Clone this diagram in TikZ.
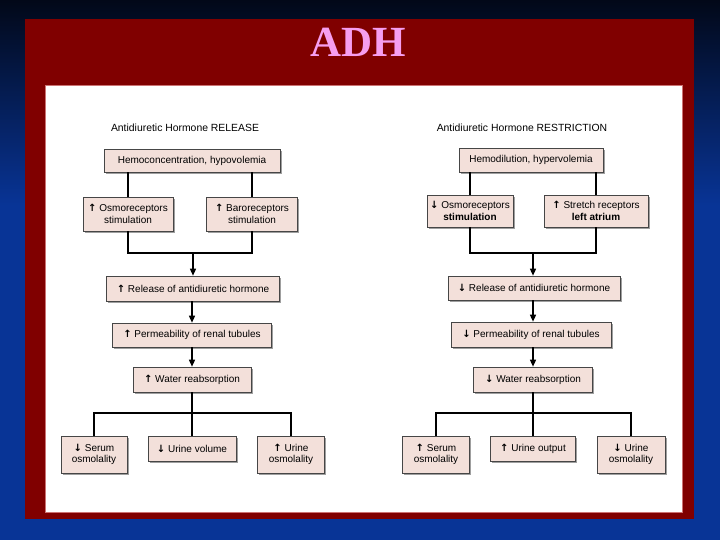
\documentclass[tikz,border=0pt]{standalone}
\usepackage{fontspec}
\setmainfont{Liberation Sans}
\newfontfamily\titlefont{Liberation Serif}
\newfontfamily\arrowfont{DejaVu Sans}
\usetikzlibrary{shadows,arrows.meta}
\definecolor{bgblue}{RGB}{8,52,150}
\definecolor{bgdark}{RGB}{2,8,24}
\definecolor{framered}{RGB}{128,0,0}
\definecolor{boxfill}{RGB}{243,224,218}
\definecolor{titlepink}{RGB}{246,158,240}
\pgfdeclareverticalshading{bgshade}{100bp}{color(0bp)=(bgblue); color(25bp)=(bgblue); color(56bp)=(bgblue); color(75bp)=(bgdark); color(100bp)=(bgdark)}
\newcommand\uparr{{\arrowfont\bfseries\char"2191}}
\newcommand\dnarr{{\arrowfont\bfseries\char"2193}}
\tikzset{
  box/.style={rectangle, fill=boxfill, draw=gray!55!black, line width=0.6pt,
    drop shadow={shadow xshift=1.8pt, shadow yshift=-1.8pt, fill=gray!75, opacity=1},
    inner sep=1pt, align=center, font=\fontsize{10}{11.5}\selectfont},
  lbl/.style={font=\fontsize{10.4}{12}\selectfont, inner sep=0pt},
  conn/.style={line width=1.4pt, black},
  arr/.style={conn, -{Triangle[length=7pt,width=6pt]}}
}
\begin{document}
\begin{tikzpicture}[x=1pt,y=-1pt]
\useasboundingbox (0,0) rectangle (720,540);
\shade[shading=bgshade] (0,0) rectangle (720,540);
\fill[framered] (25,19) rectangle (694,519);
\fill[white, draw=pink!60!framered, line width=0.6pt] (45,85) rectangle (682,512);
\node[text=titlepink, font=\titlefont\bfseries\fontsize{43}{43}\selectfont, inner sep=0pt] (title) at (358,42) {ADH};

% ---------- left: RELEASE ----------
\node[lbl] (t1) at (185,128) {Antidiuretic Hormone RELEASE};
\node[box, minimum width=176pt, minimum height=23pt] (hemo) at (192,160.5) {Hemoconcentration, hypovolemia};
\node[box, minimum width=90pt, minimum height=34pt] (osmo) at (128,214) {\uparr\ Osmoreceptors\\stimulation};
\node[box, minimum width=91pt, minimum height=34pt] (baro) at (252,214) {\uparr\ Baroreceptors\\stimulation};
\node[box, minimum width=173pt, minimum height=25pt] (rel) at (193,288.5) {\uparr\ Release of antidiuretic hormone};
\node[box, minimum width=159pt, minimum height=24pt] (perm) at (192,335) {\uparr\ Permeability of renal tubules};
\node[box, minimum width=118pt, minimum height=25pt] (water) at (192,379.5) {\uparr\ Water reabsorption};
\node[box, minimum width=66pt, minimum height=37pt] (serum) at (94,454.5) {\dnarr\ Serum\\osmolality};
\node[box, minimum width=88pt, minimum height=25pt] (uvol) at (192,448.5) {\dnarr\ Urine volume};
\node[box, minimum width=67pt, minimum height=37pt] (uosm) at (291,454.5) {\uparr\ Urine\\osmolality};

\coordinate (j1) at (193,253);
\coordinate (b1) at (192,413);
\draw[conn] (hemo.south -| osmo.north) -- (osmo.north);
\draw[conn] (hemo.south -| baro.north) -- (baro.north);
\draw[conn] (osmo.south) |- (j1) -| (baro.south);
\draw[arr] (j1) -- (j1 |- rel.north);
\draw[arr] (rel.south -| perm.north) -- (perm.north);
\draw[arr] (perm.south -| water.north) -- (water.north);
\draw[conn] (water.south) -- (b1);
\draw[conn] (serum.north) |- (b1) -| (uosm.north);
\draw[conn] (b1) -- (uvol.north);

% ---------- right: RESTRICTION ----------
\node[lbl] (t2) at (522,128) {Antidiuretic Hormone RESTRICTION};
\node[box, minimum width=144pt, minimum height=24pt] (hemo2) at (531,160) {Hemodilution, hypervolemia};
\node[box, minimum width=86pt, minimum height=32pt] (osmo2) at (470,211) {\dnarr\ Osmoreceptors\\\textbf{stimulation}};
\node[box, minimum width=104pt, minimum height=32pt] (stretch) at (596,211) {\uparr\ Stretch receptors\\\textbf{left atrium}};
\node[box, minimum width=172pt, minimum height=24pt] (rel2) at (534,288) {\dnarr\ Release of antidiuretic hormone};
\node[box, minimum width=160pt, minimum height=25pt] (perm2) at (531,334.5) {\dnarr\ Permeability of renal tubules};
\node[box, minimum width=119pt, minimum height=25pt] (water2) at (533,379.5) {\dnarr\ Water reabsorption};
\node[box, minimum width=67pt, minimum height=37pt] (serum2) at (436,454.5) {\uparr\ Serum\\osmolality};
\node[box, minimum width=85pt, minimum height=25pt] (uout) at (533,448.5) {\uparr\ Urine output};
\node[box, minimum width=68pt, minimum height=37pt] (uosm2) at (631,454.5) {\dnarr\ Urine\\osmolality};

\coordinate (j2) at (533,253);
\coordinate (b2) at (533,413);
\draw[conn] (hemo2.south -| osmo2.north) -- (osmo2.north);
\draw[conn] (hemo2.south -| stretch.north) -- (stretch.north);
\draw[conn] (osmo2.south) |- (j2) -| (stretch.south);
\draw[arr] (j2) -- (j2 |- rel2.north);
\draw[arr] (j2 |- rel2.south) -- (j2 |- perm2.north);
\draw[arr] (j2 |- perm2.south) -- (j2 |- water2.north);
\draw[conn] (water2.south) -- (b2);
\draw[conn] (serum2.north) |- (b2) -| (uosm2.north);
\draw[conn] (b2) -- (uout.north);
\end{tikzpicture}
\end{document}
